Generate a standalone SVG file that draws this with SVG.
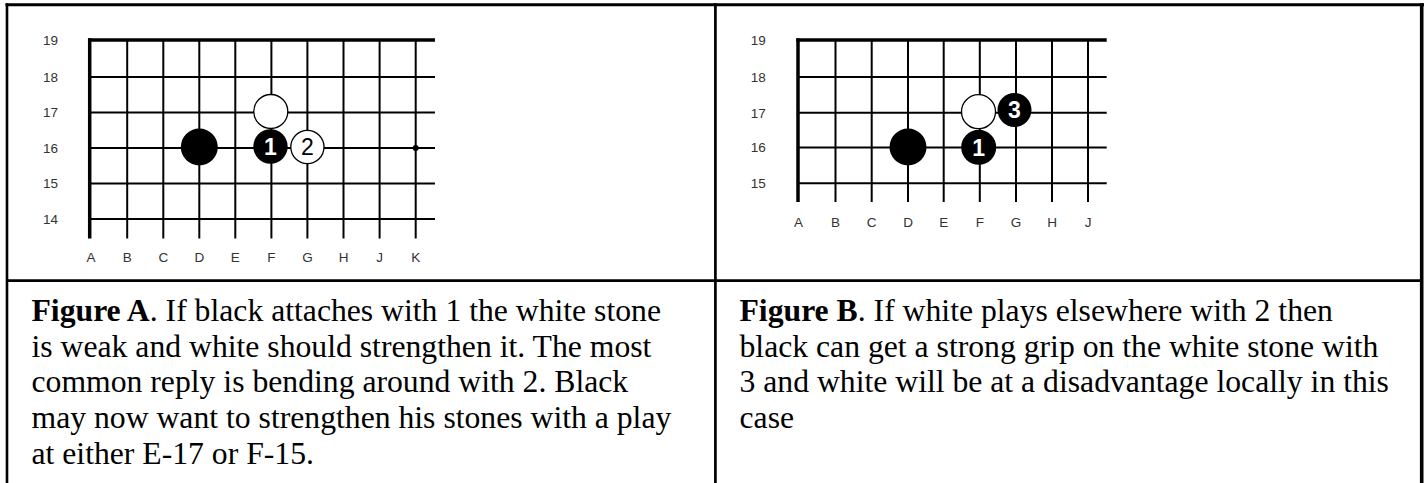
<svg xmlns="http://www.w3.org/2000/svg" width="1426" height="483" viewBox="0 0 1426 483">
<style>
.frame{stroke:#000;fill:none}
.g{stroke:#000;stroke-width:2;fill:none}
.edge{stroke:#000;stroke-width:3.5;fill:none}
.lbl{font-family:"Liberation Sans",Arial,sans-serif;font-size:13.5px;fill:#333;text-anchor:middle}
.b{fill:#000}
.w{fill:#fff;stroke:#000;stroke-width:1.3}
.nw{font-family:"Liberation Sans",Arial,sans-serif;font-size:23px;font-weight:bold;fill:#fff;text-anchor:middle}
.nb{font-family:"Liberation Sans",Arial,sans-serif;font-size:23px;fill:#000;text-anchor:middle}
.cap{font-family:"Liberation Serif","Times New Roman",serif;font-size:31.7px;fill:#000}
.bold{font-weight:bold}
</style>
<rect x="0" y="0" width="1426" height="483" fill="#fff"/>
<g id="table">
<line class="frame" x1="5.5" y1="4.7" x2="1424" y2="4.7" stroke-width="3"/>
<line class="frame" x1="7" y1="3.2" x2="7" y2="483" stroke-width="2.6"/>
<line class="frame" x1="1421.7" y1="3.2" x2="1421.7" y2="483" stroke-width="3.6"/>
<line class="frame" x1="715.4" y1="3.2" x2="715.4" y2="483" stroke-width="2.7"/>
<line class="frame" x1="7" y1="280.7" x2="1421.7" y2="280.7" stroke-width="2.7"/>
</g>
<g id="boardA">
<g id="boardA-grid">
<line class="g" x1="89.7" y1="77" x2="435" y2="77"/>
<line class="g" x1="89.7" y1="112.5" x2="435" y2="112.5"/>
<line class="g" x1="89.7" y1="148" x2="435" y2="148"/>
<line class="g" x1="89.7" y1="183.5" x2="435" y2="183.5"/>
<line class="g" x1="89.7" y1="219" x2="435" y2="219"/>
<line class="g" x1="127.2" y1="40" x2="127.2" y2="238.5"/>
<line class="g" x1="163.3" y1="40" x2="163.3" y2="238.5"/>
<line class="g" x1="199.3" y1="40" x2="199.3" y2="238.5"/>
<line class="g" x1="235.3" y1="40" x2="235.3" y2="238.5"/>
<line class="g" x1="271.4" y1="40" x2="271.4" y2="238.5"/>
<line class="g" x1="307.4" y1="40" x2="307.4" y2="238.5"/>
<line class="g" x1="343.5" y1="40" x2="343.5" y2="238.5"/>
<line class="g" x1="379.6" y1="40" x2="379.6" y2="238.5"/>
<line class="g" x1="415.7" y1="40" x2="415.7" y2="238.5"/>
<line class="edge" x1="88" y1="40" x2="435" y2="40"/>
<line class="edge" x1="89.7" y1="38.3" x2="89.7" y2="238.5"/>
</g>
<g id="boardA-labels">
<text class="lbl" x="50.5" y="44.8">19</text>
<text class="lbl" x="50.5" y="81.8">18</text>
<text class="lbl" x="50.5" y="117.3">17</text>
<text class="lbl" x="50.5" y="152.8">16</text>
<text class="lbl" x="50.5" y="188.3">15</text>
<text class="lbl" x="50.5" y="223.8">14</text>
<text class="lbl" x="91" y="262.4">A</text>
<text class="lbl" x="127.2" y="262.4">B</text>
<text class="lbl" x="163.3" y="262.4">C</text>
<text class="lbl" x="199.3" y="262.4">D</text>
<text class="lbl" x="235.3" y="262.4">E</text>
<text class="lbl" x="271.4" y="262.4">F</text>
<text class="lbl" x="307.4" y="262.4">G</text>
<text class="lbl" x="343.5" y="262.4">H</text>
<text class="lbl" x="379.6" y="262.4">J</text>
<text class="lbl" x="415.7" y="262.4">K</text>
</g>
<g id="boardA-stones">
<circle class="b" cx="415.7" cy="148" r="3"/>
<circle class="b" cx="199.3" cy="147" r="18.5"/>
<circle class="w" cx="270.8" cy="111.5" r="17"/>
<circle class="b" cx="270.5" cy="146.5" r="17.2"/>
<text class="nw" x="270.5" y="154.8">1</text>
<circle class="w" cx="307.4" cy="147" r="16.6"/>
<text class="nb" x="307.4" y="155.3">2</text>
</g>
</g>
<g id="boardB">
<g id="boardB-grid">
<line class="g" x1="798" y1="77" x2="1106.7" y2="77"/>
<line class="g" x1="798" y1="112.7" x2="1106.7" y2="112.7"/>
<line class="g" x1="798" y1="147.5" x2="1106.7" y2="147.5"/>
<line class="g" x1="798" y1="183.3" x2="1106.7" y2="183.3"/>
<line class="g" x1="835.5" y1="40" x2="835.5" y2="202"/>
<line class="g" x1="871.7" y1="40" x2="871.7" y2="202"/>
<line class="g" x1="908" y1="40" x2="908" y2="202"/>
<line class="g" x1="943.7" y1="40" x2="943.7" y2="202"/>
<line class="g" x1="979.8" y1="40" x2="979.8" y2="202"/>
<line class="g" x1="1016" y1="40" x2="1016" y2="202"/>
<line class="g" x1="1052" y1="40" x2="1052" y2="202"/>
<line class="g" x1="1088" y1="40" x2="1088" y2="202"/>
<line class="edge" x1="796.3" y1="40" x2="1106.7" y2="40"/>
<line class="edge" x1="798" y1="38.3" x2="798" y2="202"/>
</g>
<g id="boardB-labels">
<text class="lbl" x="758.3" y="44.8">19</text>
<text class="lbl" x="758.3" y="81.8">18</text>
<text class="lbl" x="758.3" y="117.5">17</text>
<text class="lbl" x="758.3" y="152.3">16</text>
<text class="lbl" x="758.3" y="188.1">15</text>
<text class="lbl" x="798.5" y="226.7">A</text>
<text class="lbl" x="835.5" y="226.7">B</text>
<text class="lbl" x="871.7" y="226.7">C</text>
<text class="lbl" x="908" y="226.7">D</text>
<text class="lbl" x="943.7" y="226.7">E</text>
<text class="lbl" x="979.8" y="226.7">F</text>
<text class="lbl" x="1016" y="226.7">G</text>
<text class="lbl" x="1052" y="226.7">H</text>
<text class="lbl" x="1088" y="226.7">J</text>
</g>
<g id="boardB-stones">
<circle class="b" cx="908" cy="147" r="18.5"/>
<circle class="w" cx="978.5" cy="111.7" r="17"/>
<circle class="b" cx="978.7" cy="147.3" r="17.5"/>
<text class="nw" x="978.7" y="155.6">1</text>
<circle class="b" cx="1014.5" cy="110" r="17"/>
<text class="nw" x="1014.5" y="118.3">3</text>
</g>
</g>
<g id="captionA">
<text class="cap" x="31.5"><tspan x="31.5" y="321"><tspan class="bold">Figure A</tspan>. If black attaches with 1 the white stone</tspan><tspan x="31.5" y="356.7">is weak and white should strengthen it. The most</tspan><tspan x="31.5" y="392.4">common reply is bending around with 2. Black</tspan><tspan x="31.5" y="428.1">may now want to strengthen his stones with a play</tspan><tspan x="31.5" y="463.8">at either E-17 or F-15.</tspan></text>
</g>
<g id="captionB">
<text class="cap" x="739.5"><tspan x="739.5" y="321"><tspan class="bold">Figure B</tspan>. If white plays elsewhere with 2 then</tspan><tspan x="739.5" y="356.7">black can get a strong grip on the white stone with</tspan><tspan x="739.5" y="392.4">3 and white will be at a disadvantage locally in this</tspan><tspan x="739.5" y="428.1">case</tspan></text>
</g>
</svg>
